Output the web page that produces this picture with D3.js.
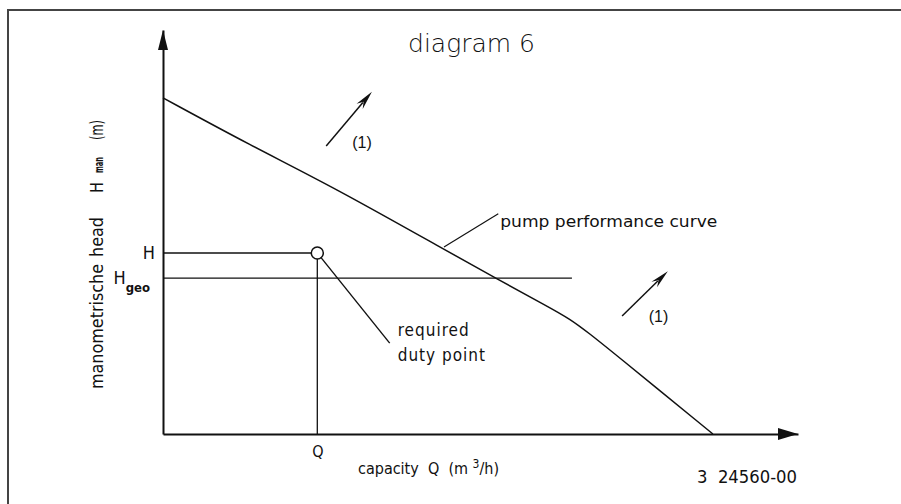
<!DOCTYPE html>
<html>
<head>
<meta charset="utf-8">
<script src="https://cdn.jsdelivr.net/npm/d3@7"></script>
<style>
  body { margin:0; background:#fff; }
  svg { display:block; }
  text { font-family:"DejaVu Sans Condensed","DejaVu Sans",sans-serif; fill:#111; white-space:pre; }
</style>
</head>
<body>
<script>
// pump performance curve (Q and H in % of axis length)
const curveQ = [0, 13.7, 27.1, 44.7, 52.6, 60.2, 64.1, 67.2, 70.4, 86.6]
const curveH = [83.2, 71.5, 60.9, 45.3, 38.4, 31.9, 28.5, 24.8, 20.8, 0]

// duty point and static head
const dutyQ = 24.3, dutyH = 44.8
const geoH = 38.6, geoEnd = 64.4

// "(1)" shift arrows: [q0,h0,q1,h1]
const shiftArrows = [[25.7, 71.3, 32.9, 84.7], [72.3, 29.2, 79.5, 40.3]]
const shiftLabels = [[29.8, 70.8], [76.5, 27.7]]

// leader ends
const dutyLeader = [35.7, 22.5]
const pumpLeader = [[44.25, 46.3], [52.8, 54.5]]

const W = 901, H = 504
const svg = d3.select('body').append('svg').attr('width', W).attr('height', H)

const x = d3.scaleLinear().domain([0, 100]).range([163, 798])
const y = d3.scaleLinear().domain([0, 100]).range([434, 30])

// frame (top + left only, rest is cropped)
svg.append('path')
  .attr('d', `M8,${H} L8,10 L${W},10`)
  .attr('fill', 'none').attr('stroke', '#444').attr('stroke-width', 2)

// title
svg.append('text')
  .attr('x', 408).attr('y', 52)
  .attr('textLength', 127).attr('lengthAdjust', 'spacingAndGlyphs')
  .style('font-family', '"DejaVu Sans"').style('font-weight', 200)
  .style('font-size', '25px').attr('fill', '#000')
  .text('diagram 6')

// axes
const xAxis = svg.append('g').attr('transform', `translate(0,${y(0)})`)
  .call(d3.axisBottom(x).tickValues([dutyQ]).tickFormat(() => 'Q').tickSize(0).tickPadding(12))
const yAxis = svg.append('g').attr('transform', `translate(${x(0)},0)`)
  .call(d3.axisLeft(y).tickValues([dutyH, geoH]).tickFormat(() => 'H').tickSize(0).tickPadding(8))

;[xAxis, yAxis].forEach(a => {
  a.select('.domain').attr('stroke', '#111').attr('stroke-width', 2)
  a.selectAll('text').style('font-family', '"DejaVu Sans Condensed"').attr('fill', '#111')
})
xAxis.selectAll('text').style('font-size', '16px')
yAxis.selectAll('text').style('font-size', '18px')
// subscript on H_geo
yAxis.selectAll('.tick').filter(d => d === geoH).select('text')
  .attr('x', -13)
  .append('tspan').attr('dy', 8).style('font-size', '13px').style('font-weight', 'bold').text('geo')

// axis arrow heads
svg.append('path')
  .attr('d', `M${x(0)},${y(100)} L${x(0) - 5},${y(100) + 20} L${x(0) + 5},${y(100) + 20} Z`)
  .attr('fill', '#111')
svg.append('path')
  .attr('d', `M${x(100)},${y(0)} L${x(100) - 20},${y(0) - 6} L${x(100) - 20},${y(0) + 6} Z`)
  .attr('fill', '#111')

// pump curve
const pts = curveQ.map((q, i) => [q, curveH[i]])
svg.append('path')
  .datum(pts)
  .attr('fill', 'none').attr('stroke', '#111').attr('stroke-width', 1.5)
  .attr('d', d3.line().x(d => x(d[0])).y(d => y(d[1])).curve(d3.curveBasis))

// H_geo line
svg.append('line')
  .attr('x1', x(0)).attr('x2', x(geoEnd)).attr('y1', y(geoH)).attr('y2', y(geoH))
  .attr('stroke', '#111').attr('stroke-width', 1.3)

// duty point lines
const r = 6
svg.append('line')
  .attr('x1', x(0)).attr('x2', x(dutyQ) - r).attr('y1', y(dutyH)).attr('y2', y(dutyH))
  .attr('stroke', '#111').attr('stroke-width', 1.5)
svg.append('line')
  .attr('x1', x(dutyQ)).attr('x2', x(dutyQ)).attr('y1', y(dutyH) + r).attr('y2', y(0))
  .attr('stroke', '#111').attr('stroke-width', 1.3)
svg.append('circle')
  .attr('cx', x(dutyQ)).attr('cy', y(dutyH)).attr('r', r)
  .attr('fill', 'none').attr('stroke', '#111').attr('stroke-width', 1.5)

// duty leader
{
  const x0 = x(dutyQ), y0 = y(dutyH), x1 = x(dutyLeader[0]), y1 = y(dutyLeader[1])
  const a = Math.atan2(y1 - y0, x1 - x0)
  svg.append('line')
    .attr('x1', x0 + r * Math.cos(a)).attr('y1', y0 + r * Math.sin(a))
    .attr('x2', x1).attr('y2', y1)
    .attr('stroke', '#111').attr('stroke-width', 1.4)
  const t = svg.append('text').style('font-size', '17px').style('letter-spacing', '1px')
  t.append('tspan').attr('x', x1 + 8).attr('y', y1 - 7).text('required')
  t.append('tspan').attr('x', x1 + 8).attr('y', y1 + 18).text('duty point')
}

// pump curve leader
svg.append('line')
  .attr('x1', x(pumpLeader[0][0])).attr('y1', y(pumpLeader[0][1]))
  .attr('x2', x(pumpLeader[1][0])).attr('y2', y(pumpLeader[1][1]))
  .attr('stroke', '#111').attr('stroke-width', 1.2)
svg.append('text')
  .attr('x', x(pumpLeader[1][0]) + 2).attr('y', y(pumpLeader[1][1]) + 13)
  .attr('textLength', 217).attr('lengthAdjust', 'spacingAndGlyphs')
  .style('font-size', '16px')
  .text('pump performance curve')

// shift arrows (1)
shiftArrows.forEach(([q0, h0, q1, h1]) => {
  const x0 = x(q0), y0 = y(h0), x1 = x(q1), y1 = y(h1)
  const a = Math.atan2(y1 - y0, x1 - x0)
  const L = 19, w = 4
  const bx = x1 - L * Math.cos(a), by = y1 - L * Math.sin(a)
  svg.append('line')
    .attr('x1', x0).attr('y1', y0).attr('x2', bx + 5 * Math.cos(a)).attr('y2', by + 5 * Math.sin(a))
    .attr('stroke', '#111').attr('stroke-width', 1.5)
  svg.append('path')
    .attr('d', `M${x1},${y1} L${bx - w * Math.sin(a)},${by + w * Math.cos(a)} L${bx + 6 * Math.cos(a)},${by + 6 * Math.sin(a)} L${bx + w * Math.sin(a)},${by - w * Math.cos(a)} Z`)
    .attr('fill', '#111')
})
svg.selectAll('text.shift')
  .data(shiftLabels).join('text').attr('class', 'shift')
  .attr('x', d => x(d[0])).attr('y', d => y(d[1]))
  .style('font-family', '"Liberation Sans", Arial, sans-serif').style('font-size', '16px')
  .text('(1)')

// y axis title, laid out word by word as in the drawing
const yTitle = [
  { s: 'manometrische', from: 389, to: 264, size: 18 },
  { s: 'head', from: 257, to: 217, size: 18 },
  { s: 'H', from: 193, to: 182, size: 18 },
  { s: 'man', from: 173, to: 157, size: 12, bold: true },
  { s: '(m)', from: 140, to: 120, size: 18 }
]
svg.selectAll('text.ytitle')
  .data(yTitle).join('text').attr('class', 'ytitle')
  .attr('transform', d => `translate(103,${d.from}) rotate(-90)`)
  .attr('textLength', d => d.from - d.to).attr('lengthAdjust', 'spacingAndGlyphs')
  .style('font-size', d => d.size + 'px')
  .style('font-weight', d => d.bold ? 'bold' : null)
  .text(d => d.s)

// x axis title
const xt = svg.append('text').attr('x', 358).attr('y', 474).style('font-size', '16px')
xt.append('tspan').text('capacity  Q  (m ')
xt.append('tspan').attr('dy', -6).style('font-size', '12px').text('3')
xt.append('tspan').attr('dy', 6).text('/h)')

// drawing number
svg.append('text')
  .attr('x', 697).attr('y', 483)
  .attr('textLength', 100).attr('lengthAdjust', 'spacingAndGlyphs')
  .style('font-size', '18px')
  .text('3  24560-00')
</script>
</body>
</html>
